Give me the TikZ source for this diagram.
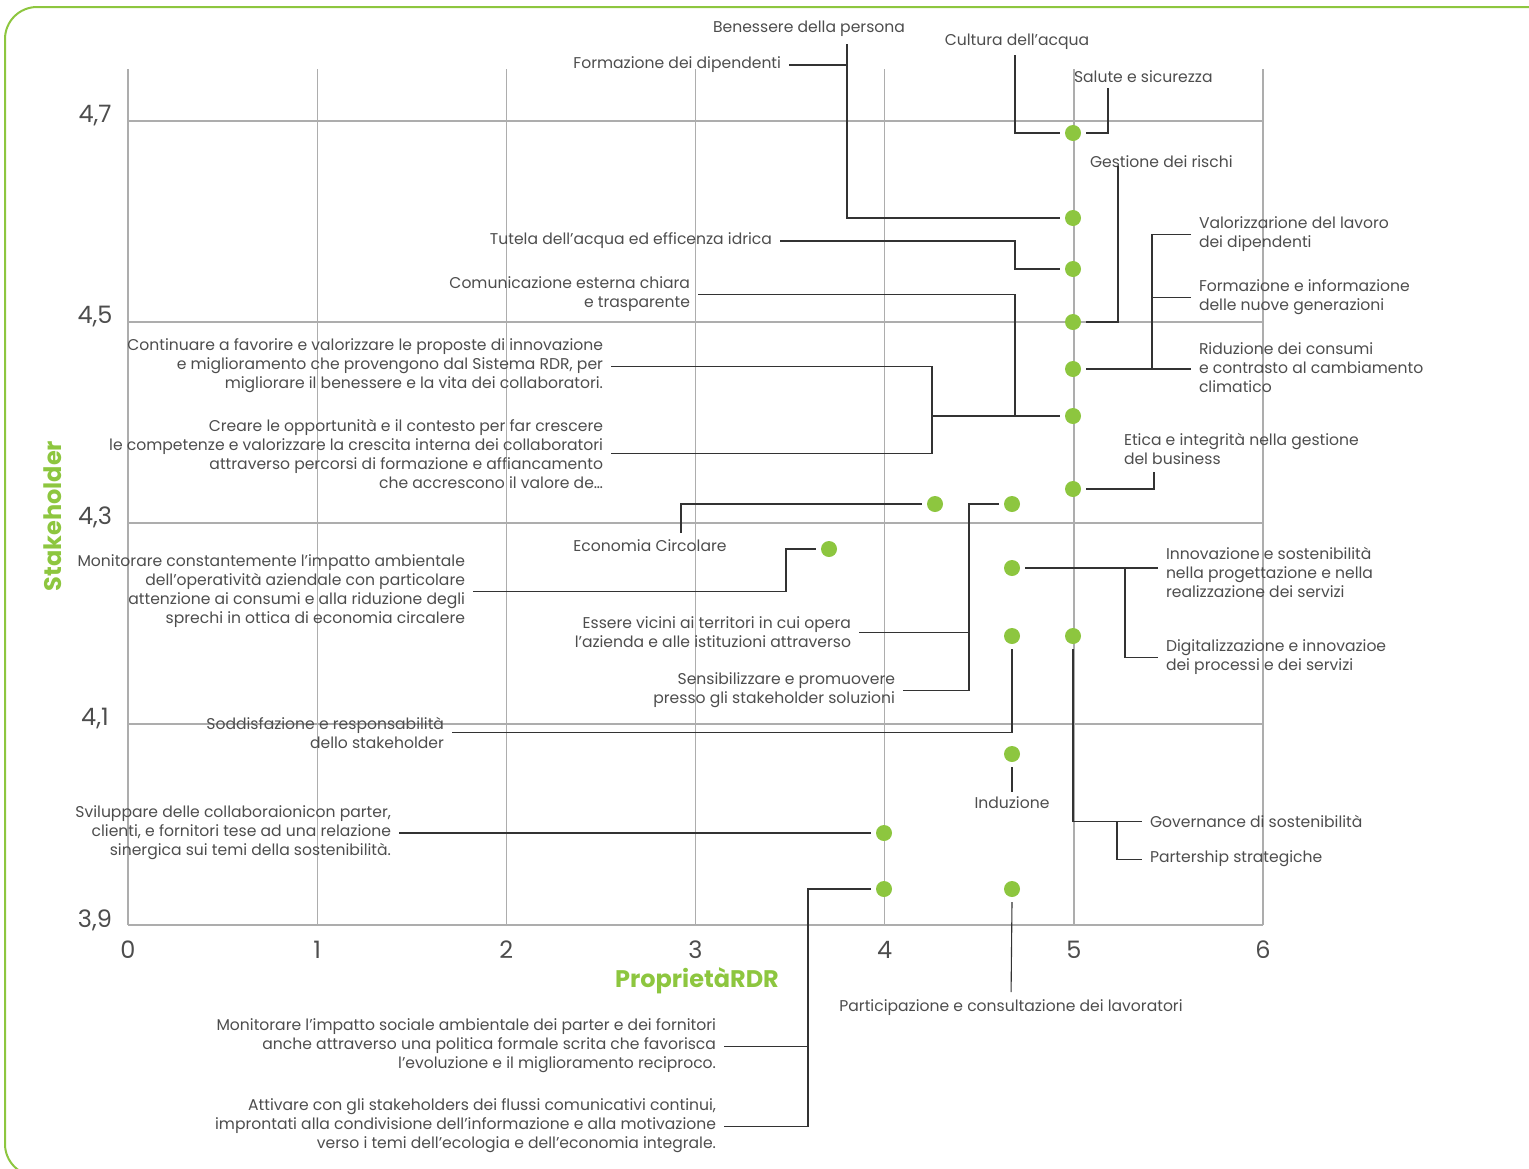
\documentclass[tikz,border=0pt]{standalone}
\usepackage{fontspec}
\setmainfont{Poppins}
\definecolor{lgreen}{HTML}{8DC63F}
\definecolor{txt}{HTML}{4D4D4D}
\definecolor{grd}{HTML}{ADADAD}
\definecolor{cn}{HTML}{333333}
\begin{document}
\begin{tikzpicture}[x=1pt,y=-1pt,
  dot/.style={circle,fill=lgreen,minimum size=16pt,inner sep=0pt,outer sep=5pt},
  lbl/.style={inner xsep=8pt,inner ysep=0pt,outer sep=0pt,text=txt,font=\fontsize{15.6}{19}\selectfont},
  lr/.style={lbl,align=right},
  ll/.style={lbl,align=left},
  lc/.style={lbl,align=center},
  conn/.style={draw=cn,line width=1.1pt},
  gridl/.style={draw=grd,line width=1.3pt},
  tick/.style={text=txt,font=\fontsize{24}{28}\selectfont,inner sep=0pt},
  axt/.style={text=lgreen,font=\bfseries\fontsize{24}{28}\selectfont,inner sep=0pt}]
\useasboundingbox (0,0) rectangle (1529,1168);
\draw[lgreen,line width=2pt,rounded corners=32pt] (5,7) rectangle (1559,1176);
% grid
\foreach \i in {0,...,6} {\draw[gridl] (128+189.17*\i,69) -- (128+189.17*\i,925);}
\foreach \yy in {121,322,523,724,925} {\draw[gridl] (128,\yy) -- (1263,\yy);}
% tick labels
\node[tick,anchor=base] (y47) at (95,122) {4,7};
\node[tick,anchor=base] (y45) at (95,323) {4,5};
\node[tick,anchor=base] (y43) at (95,524) {4,3};
\node[tick,anchor=base] (y41) at (95,725) {4,1};
\node[tick,anchor=base] (y39) at (95,927) {3,9};
\foreach \i in {0,...,6} {\node[tick,anchor=base] (x\i) at (128+189.17*\i,958) {\i};}
\node[axt,anchor=base] (xt) at (697,987) {ProprietàRDR};
\node[axt,rotate=90] (yt) at (53,516) {Stakeholder};
% dots
\node[dot] (d1) at (1073,133) {};
\node[dot] (d2) at (1073,218) {};
\node[dot] (d3) at (1073,269) {};
\node[dot] (d4) at (1073,322) {};
\node[dot] (d5) at (1073,369) {};
\node[dot] (d6) at (1073,416) {};
\node[dot] (d7) at (1073,489) {};
\node[dot] (d8) at (935,504) {};
\node[dot] (d9) at (1012,504) {};
\node[dot] (d10) at (829,549) {};
\node[dot] (d11) at (1012,568) {};
\node[dot] (d12) at (1012,636) {};
\node[dot] (d13) at (1073,636) {};
\node[dot] (d14) at (1012,754) {};
\node[dot] (d15) at (884,833) {};
\node[dot] (d16) at (884,889) {};
\node[dot] (d17) at (1012,889) {};
% labels
\node[lc,anchor=north] (L1) at (809,21) {Benessere della persona};
\node[lr,anchor=north east] (L2) at (789,57) {Formazione dei dipendenti};
\node[lc,anchor=north] (L3) at (1017,34) {Cultura dell’acqua};
\node[ll,anchor=north west] (L4) at (1066,71) {Salute e sicurezza};
\node[ll,anchor=north west] (L5) at (1082,156) {Gestione dei rischi};
\node[lr,anchor=north east] (L6) at (780,233) {Tutela dell’acqua ed efficenza idrica};
\node[lr,anchor=north east] (L7) at (698,277) {Comunicazione esterna chiara\\e trasparente};
\node[lr,anchor=north east] (L8) at (611,339) {Continuare a favorire e valorizzare le proposte di innovazione\\e miglioramento che provengono dal Sistema RDR, per\\migliorare il benessere e la vita dei collaboratori.};
\node[lr,anchor=north east] (L9) at (611,419) {Creare le opportunità e il contesto per far crescere\\le competenze e valorizzare la crescita interna dei collaboratori\\attraverso percorsi di formazione e affiancamento\\che accrescono il valore de…};
\node[ll,anchor=north west] (L10) at (1191,217) {Valorizzarione del lavoro\\dei dipendenti};
\node[ll,anchor=north west] (L11) at (1191,280) {Formazione e informazione\\delle nuove generazioni};
\node[ll,anchor=north west] (L12) at (1191,343) {Riduzione dei consumi\\e contrasto al cambiamento\\climatico};
\node[ll,anchor=north west] (L13) at (1116,433) {Etica e integrità nella gestione\\del business};
\node[lc,anchor=north] (L14) at (650,540) {Economia Circolare};
\node[lr,anchor=north east] (L15) at (473,555) {Monitorare constantemente l’impatto ambientale\\dell’operatività aziendale con particolare\\attenzione ai consumi e alla riduzione degli\\sprechi in ottica di economia circalere};
\node[ll,anchor=north west] (L16) at (1158,547) {Innovazione e sostenibilità\\nella progettazione e nella\\realizzazione dei servizi};
\node[lr,anchor=north east] (L17) at (859,617) {Essere vicini ai territori in cui opera\\l’azienda e alle istituzioni attraverso};
\node[ll,anchor=north west] (L18) at (1158,640) {Digitalizzazione e innovazioe\\dei processi e dei servizi};
\node[lr,anchor=north east] (L19) at (903,673) {Sensibilizzare e promuovere\\presso gli stakeholder soluzioni};
\node[lr,anchor=north east] (L20) at (452,717) {Soddisfazione e responsabilità\\dello stakeholder};
\node[lc,anchor=north] (L21) at (1012,797) {Induzione};
\node[lr,anchor=north east] (L22) at (399,806) {Sviluppare delle collaboraionicon parter,\\clienti, e fornitori tese ad una relazione\\sinergica sui temi della sostenibilità.};
\node[ll,anchor=north west] (L23) at (1142,815) {Governance di sostenibilità};
\node[ll,anchor=north west] (L24) at (1142,851) {Partership strategiche};
\node[lc,anchor=north] (L25) at (1011,1000) {Participazione e consultazione dei lavoratori};
\node[lr,anchor=north east] (L26) at (724,1019) {Monitorare l’impatto sociale ambientale dei parter e dei fornitori\\anche attraverso una politica formale scrita che favorisca\\l’evoluzione e il miglioramento reciproco.};
\node[lr,anchor=north east] (L27) at (724,1099) {Attivare con gli stakeholders dei flussi comunicativi continui,\\improntati alla condivisione dell’informazione e alla motivazione\\verso i temi dell’ecologia e dell’economia integrale.};
% bus coordinates
\coordinate (bA) at (847,44);
\coordinate (bB) at (1015,55);
\coordinate (bC) at (1108,88);
\coordinate (bD) at (1118,166);
\coordinate (bE) at (1015,0);
\coordinate (bG) at (932,0);
\coordinate (bH) at (1152,0);
\coordinate (bI) at (1154,472);
\coordinate (bJ) at (681,533);
\coordinate (bK) at (786,0);
\coordinate (bL) at (969,0);
\coordinate (bM) at (1125,0);
\coordinate (bO) at (1117,0);
\coordinate (bP) at (808,0);
% connectors
\draw[conn] (bA) |- (d2.west);
\draw[conn] (L2.east) -- (L2.east -| bA);
\draw[conn] (bB) |- (d1.west);
\draw[conn] (d1.east) -| (bC);
\draw[conn] (d4.east) -| (bD);
\draw[conn] (L6.east) -- (L6.east -| bE) |- (d3.west);
\draw[conn] (L7.east) -- (L7.east -| bE) |- (d6.west);
\draw[conn] (L8.east) -- (L8.east -| bG) -- (L9.east -| bG) -- (L9.east);
\draw[conn] (d6.west -| bG) -- (d6.west);
\draw[conn] (d5.east) -- (d5.east -| L12.west);
\draw[conn] (L10.west) -- (L10.west -| bH) -- (d5.east -| bH);
\draw[conn] (L11.west) -- (L11.west -| bH);
\draw[conn] (d7.east) -| (bI);
\draw[conn] (bJ) |- (d8.west);
\draw[conn] (L15.east) -- (L15.east -| bK) |- (d10.west);
\draw[conn] (d9.west) -| (L19.east -| bL) -- (L19.east);
\draw[conn] (L17.east) -- (L17.east -| bL);
\draw[conn] (d11.east) -- (d11.east -| L16.west);
\draw[conn] (d11.east -| bM) |- (L18.west);
\draw[conn] (d12.south) |- (L20.east);
\draw[conn] (d13.south) |- (L23.west);
\draw[conn] (L23.west -| bO) |- (L24.west);
\draw[conn,shorten >=5pt] (d14.south) -- (L21.north);
\draw[conn] (d15.west) -- (d15.west -| L22.east);
\draw[conn] (d16.west) -| (L27.east -| bP) -- (L27.east);
\draw[conn] (L26.east) -- (L26.east -| bP);
\draw[conn,shorten >=8pt] (d17.south) -- (L25.north);
\end{tikzpicture}
\end{document}
